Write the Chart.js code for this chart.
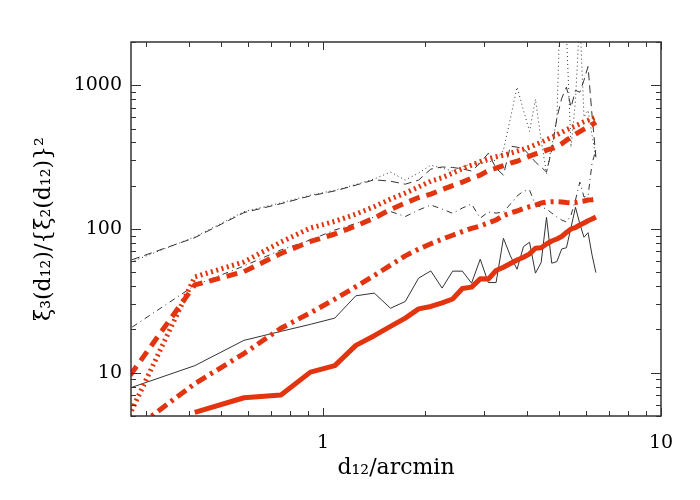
<!DOCTYPE html>
<html>
<head>
<meta charset="utf-8">
<script src="https://cdn.jsdelivr.net/npm/chart.js@4.4.0/dist/chart.umd.min.js"></script>
<style>
  body { margin: 0; background: #fff; }
  #wrap { width: 700px; height: 500px; }
</style>
</head>
<body>
<div id="wrap"><canvas id="lineChart" width="700" height="500"></canvas></div>
<script>
// separations d12 (arcmin), one bin every 10 arcsec
const d12 = [0.25, 0.417, 0.583, 0.75, 0.917, 1.083, 1.25, 1.417, 1.583, 1.75,
  1.917, 2.083, 2.25, 2.417, 2.583, 2.75, 2.917, 3.083, 3.25, 3.417,
  3.583, 3.75, 3.917, 4.083, 4.25, 4.417, 4.583, 4.75, 4.917, 5.083,
  5.25, 5.417, 5.583, 5.75, 5.917, 6.083, 6.25, 6.417];

// thick red curves (model)
const modelSolid = [null, 5.3, 6.7, 7.0, 10.1, 11.2, 15.5, 18.1, 21.0, 24.0,
  27.8, 28.9, 30.6, 32.6, 38.5, 39.4, 45.0, 44.8, 51.4, 54.2,
  57.6, 60.9, 63.6, 67.1, 73.5, 74.1, 78.7, 82.5, 85.2, 88.7,
  94.6, 100, 102.4, 106.6, 110.1, 114.2, 117.3, 121.2];
const modelDashDot = [3.4, 8.4, 13.6, 20.4, 26.1, 32.5, 39.7, 47.5, 56, 65,
  72.5, 79, 85, 90.5, 96, 101, 105, 110.1, 115.5, 124,
  129.2, 133.4, 138.8, 143.3, 146.8, 151.5, 154, 154.9, 154.7, 154,
  152.8, 152.4, 152.8, 155, 156.5, 159, 160, 161.6];
const modelDashed = [7.6, 40.8, 50.5, 67.6, 81.9, 92.3, 105, 119.2, 136.6, 151.5,
  165.5, 175, 188, 200.5, 212, 226, 237, 255, 265, 276,
  287, 296, 309, 321, 333, 342, 354, 362, 374, 392,
  415, 435, 457, 476, 495, 511, 532, 553];
const modelDotted = [3.65, 46.4, 59.0, 81.2, 101.6, 113, 127, 143, 161.5, 177.8,
  195.8, 215.4, 227.6, 244.8, 263, 278, 294, 308, 318, 326,
  337, 348, 359, 370, 386, 401, 418, 435, 452, 470,
  490, 506, 522, 539, 557, 570, 584, 598];

// thin black curves (measured)
const dataSolid = [7.4, 11.2, 16.8, 19.4, 21.7, 24.0, 34.3, 35.8, 28.1, 31.3,
  45.5, 51.1, 38.8, 50.9, 50.9, 42.0, 61.6, 42.4, 42.4, 86.2,
  65, 52.5, 75.4, 80.9, 49.3, 58.3, 120.6, 57.8, 59.3, 72.6,
  74.1, 102.5, 141.5, 108.8, 87.6, 94.3, 66, 49.7];
const dataDashDot = [18.2, 40.5, 55.3, 71.5, 83.9, 98.4, 109.2, 121.2, 132.3, 122.1,
  135.5, 146.8, 137.7, 128.5, 139.9, 149.1, 119, 131.2, 129, 131.2,
  149, 169.5, 183.6, 186.6, 146.8, 142.2, 137.7, 129, 121.2, 115.5,
  111.8, 125, 159, 212, 167, 169.5, 287, 354];
const dataDashed = [57, 87, 130, 150, 170, 184, 202, 220, 215, 205,
  219, 261, 270, 268, 262, 253, 287, 337, 265, 237,
  377, 371, 362, 326, 292, 270, 249, 354, 589, 812,
  970, 703, 922, 894, 1084, 1350, 620, 316];
const dataDotted = [55, 88, 132, 152, 172, 186, 204, 223, 249, 219,
  245, 278, 265, 253, 272, 283, 287, 292, 302, 354,
  589, 970, 670, 478, 800, 415, 244, 383, 570, 8000,
  2300, 371, 785, 3000, 600, 670, 450, 316];

const xTicks = [1, 10];
const yTicks = [10, 100, 1000];

const red = "#e2340e";
const ink = "#333333";
const serif = "'DejaVu Serif', 'Liberation Serif', serif";

function points(values) {
  return d12.map((x, i) => ({ x: x, y: values[i] }));
}

function series(label, values, color, width, dash) {
  return {
    label: label,
    data: points(values),
    borderColor: color,
    borderWidth: width,
    borderDash: dash,
    borderCapStyle: "butt",
    borderJoinStyle: "round",
    pointRadius: 0,
    fill: false,
    tension: 0,
    clip: 0,
  };
}

// ticks inside the frame on all four sides, like the original plot
const frameTicks = {
  id: "frameTicks",
  afterDraw(chart) {
    const { ctx, chartArea: a, scales } = chart;
    ctx.save();
    ctx.strokeStyle = ink;
    ctx.lineWidth = 1;
    ctx.beginPath();
    const xs = scales.x;
    for (let e = -1; e <= 1; e++) {
      for (let m = 1; m <= 9; m++) {
        const v = m * Math.pow(10, e);
        if (v < xs.min || v > xs.max) continue;
        const px = Math.round(xs.getPixelForValue(v)) + 0.5;
        const len = m === 1 ? 8 : 5;
        ctx.moveTo(px, a.bottom); ctx.lineTo(px, a.bottom - len);
        ctx.moveTo(px, a.top); ctx.lineTo(px, a.top + len);
      }
    }
    const ys = scales.y;
    for (let e = 0; e <= 3; e++) {
      for (let m = 1; m <= 9; m++) {
        const v = m * Math.pow(10, e);
        if (v < ys.min || v > ys.max) continue;
        const py = Math.round(ys.getPixelForValue(v)) + 0.5;
        const len = m === 1 ? 10 : 5;
        ctx.moveTo(a.left, py); ctx.lineTo(a.left + len, py);
        ctx.moveTo(a.right, py); ctx.lineTo(a.right - len, py);
      }
    }
    ctx.stroke();
    ctx.lineWidth = 1.5;
    ctx.strokeRect(a.left, a.top, a.right - a.left, a.bottom - a.top);
    ctx.restore();
  },
};

const ctx = document.getElementById("lineChart").getContext("2d");
const myChart = new Chart(ctx, {
  type: "line",
  data: {
    datasets: [
      series("model, solid", modelSolid, red, 5, []),
      series("model, dash-dot", modelDashDot, red, 5, [11, 5, 3, 5]),
      series("model, dashed", modelDashed, red, 5, [11, 7]),
      series("model, dotted", modelDotted, red, 5, [2, 3.5]),
      series("data, solid", dataSolid, ink, 1, []),
      series("data, dash-dot", dataDashDot, ink, 1, [6, 4, 1, 4]),
      series("data, dashed", dataDashed, ink, 1, [8, 5]),
      series("data, dotted", dataDotted, ink, 1, [1, 3]),
    ],
  },
  options: {
    responsive: false,
    animation: false,
    devicePixelRatio: 1,
    layout: { padding: { top: 42, right: 39, left: 0, bottom: 0 } },
    plugins: {
      legend: { display: false },
      tooltip: { enabled: false },
    },
    scales: {
      x: {
        type: "logarithmic",
        min: 0.27,
        max: 10,
        afterBuildTicks: (scale) => { scale.ticks = xTicks.map((v) => ({ value: v })); },
        afterFit: (scale) => { scale.height = 84; },
        grid: { display: false, drawTicks: false },
        border: { display: false },
        ticks: {
          autoSkip: false,
          maxRotation: 0,
          padding: 16,
          color: "#000",
          font: { family: serif, size: 19 },
          callback: (v) => String(v),
        },
        title: {
          display: true,
          text: "d₁₂/arcmin",
          color: "#000",
          font: { family: serif, size: 22 },
          padding: { top: 0, bottom: 19 },
        },
      },
      y: {
        type: "logarithmic",
        min: 5,
        max: 2000,
        afterBuildTicks: (scale) => { scale.ticks = yTicks.map((v) => ({ value: v })); },
        afterFit: (scale) => { scale.width = 131; },
        grid: { display: false, drawTicks: false },
        border: { display: false },
        ticks: {
          autoSkip: false,
          padding: 9,
          color: "#000",
          font: { family: serif, size: 19 },
          callback: (v) => String(v),
        },
        title: {
          display: true,
          text: "ξ₃(d₁₂)/{ξ₂(d₁₂)}²",
          color: "#000",
          font: { family: serif, size: 22 },
          padding: { top: 31, bottom: 0 },
        },
      },
    },
  },
  plugins: [frameTicks],
});
</script>
</body>
</html>
